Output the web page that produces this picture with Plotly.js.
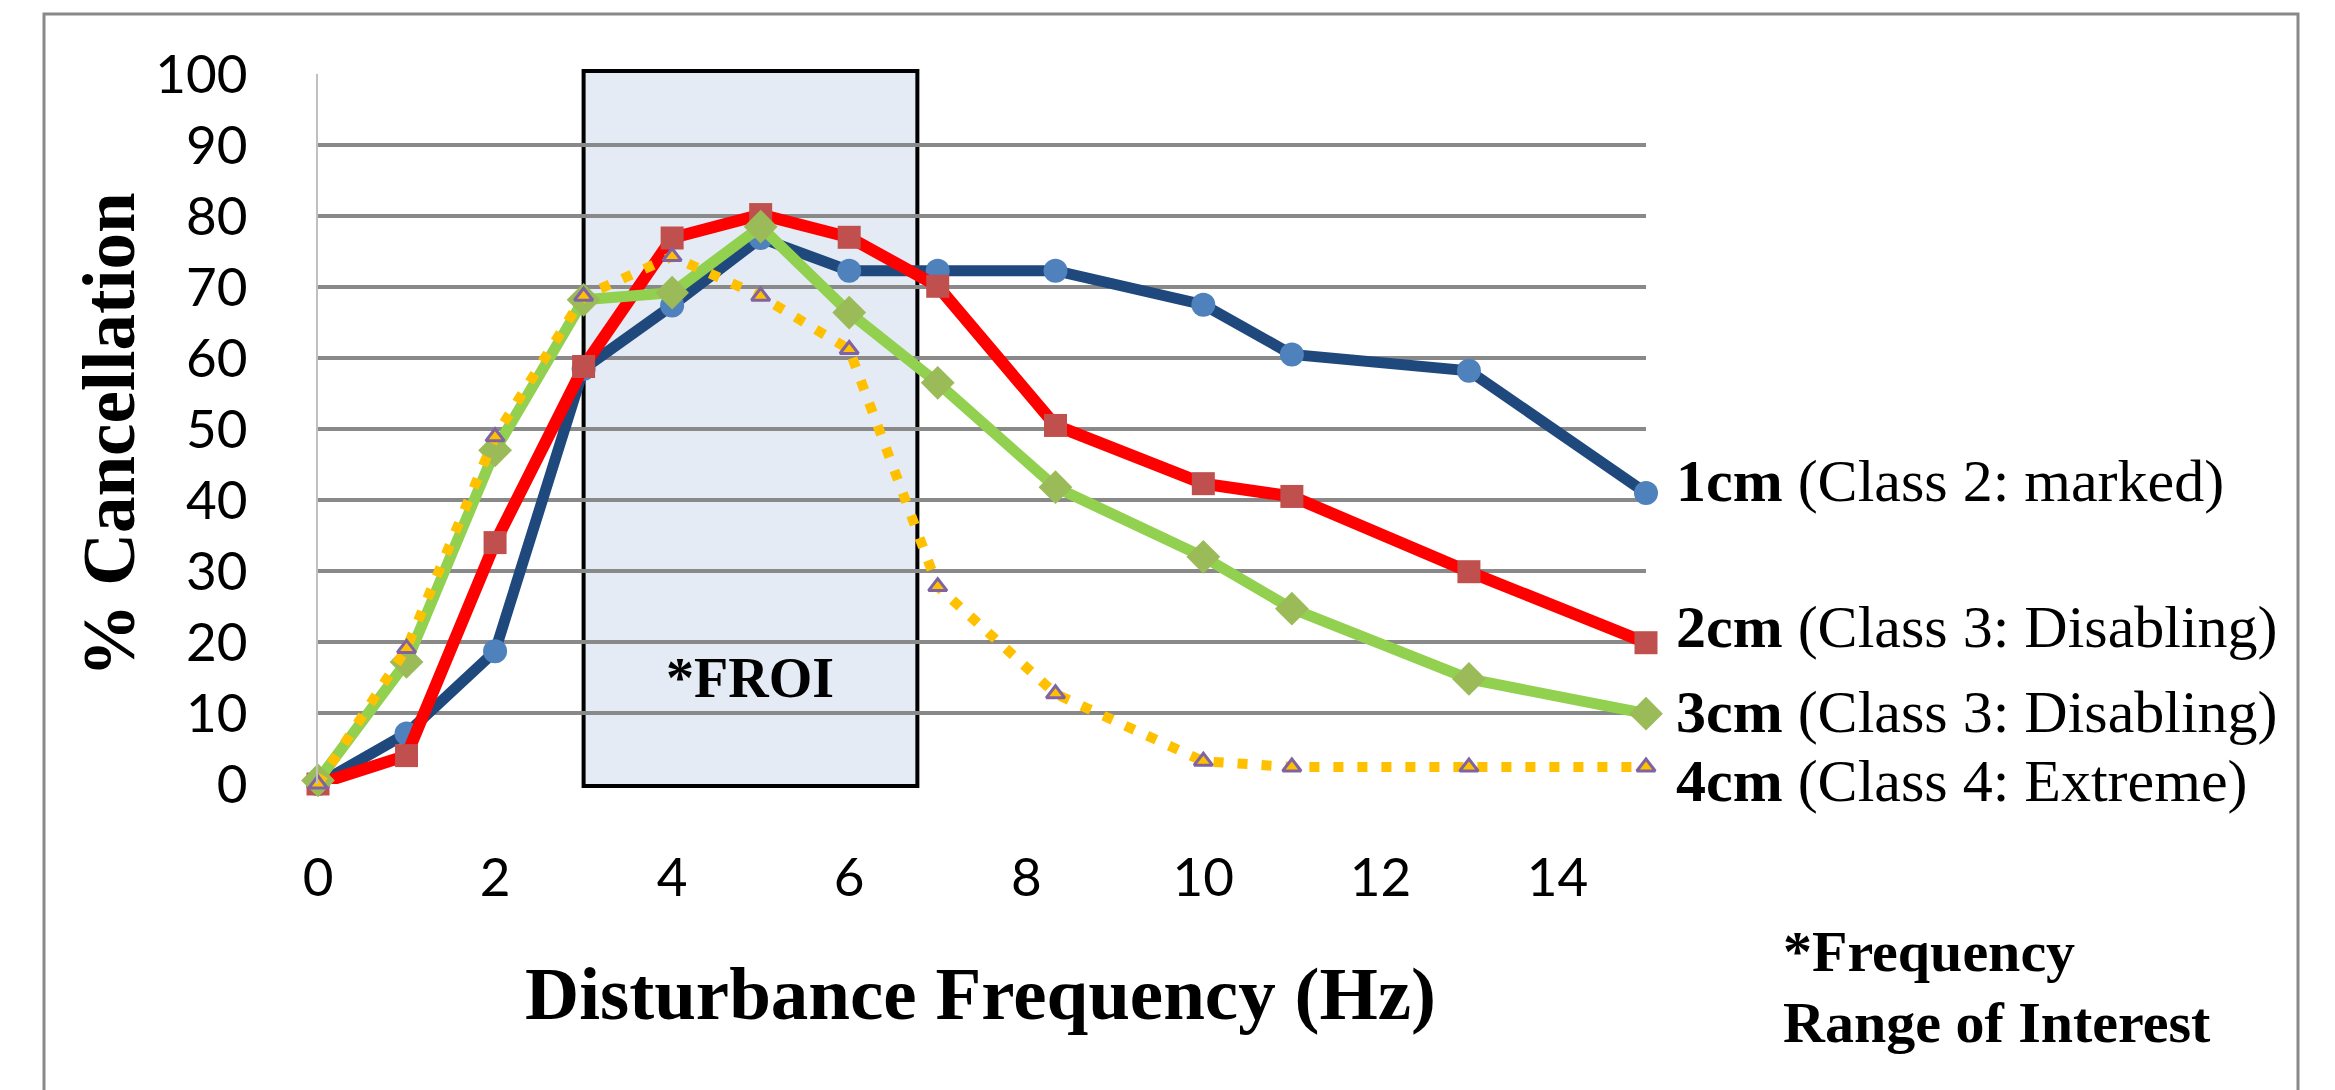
<!DOCTYPE html>
<html>
<head>
<meta charset="utf-8">
<script src="https://cdn.plot.ly/plotly-3.0.1.min.js"></script>
<style>
  html, body { margin: 0; padding: 0; background: #ffffff; }
  #chart { width: 2335px; height: 1090px; }
</style>
</head>
<body>
<div id="chart"></div>
<script>
// ---- data ----
const freqHz = [0, 1, 2, 3, 4, 5, 6, 7, 8.33, 10, 11, 13, 15];
const cancel1cm = [0, 7.1, 18.7, 58.5, 67.4, 76.9, 72.3, 72.3, 72.3, 67.5, 60.5, 58.2, 41.0];
const cancel2cm = [0, 4.0, 34.0, 58.8, 76.9, 80.2, 77.0, 70.1, 50.5, 42.3, 40.5, 29.9, 19.9];
const cancel3cm = [0.5, 17.2, 47.0, 68.2, 69.2, 78.5, 66.4, 56.5, 41.8, 32.0, 24.7, 14.8, 9.9];
const cancel4cm = [0, 19.1, 48.9, 68.7, 74.3, 68.7, 61.2, 27.8, 12.7, 3.2, 2.4, 2.4, 2.4];
const seriesNames = ["1cm", "2cm", "3cm", "4cm"];
const seriesClasses = ["(Class 2: marked)", "(Class 3: Disabling)", "(Class 3: Disabling)", "(Class 4: Extreme)"];
const xTickVals = [0, 2, 4, 6, 8, 10, 12, 14];
const yTickVals = [0, 10, 20, 30, 40, 50, 60, 70, 80, 90, 100];
const froiRange = [3, 6.77];
const froiLabel = "*FROI";
const noteLines = ["*Frequency", "Range of Interest"];
const xTitle = "Disturbance Frequency (Hz)";
const yTitle = "% Cancellation";

// ---- layout geometry (pixels) ----
const W = 2335, H = 1090;
const L = 318, R = 1646, T = 74, B = 784;
const PW = R - L, PH = B - T;
const px = v => (v - L) / PW;          // pixel x -> paper x
const py = v => (B - v) / PH;          // pixel y -> paper y

const serif = "Liberation Serif, Times New Roman, serif";
const sans = "Lato, Carlito, Calibri, sans-serif";

const traces = [
  { x: freqHz, y: cancel1cm, name: seriesNames[0], mode: "lines+markers",
    line: { color: "#1F497D", width: 11 },
    marker: { symbol: "circle", size: 24, color: "#4F81BD" } },
  { x: freqHz, y: cancel2cm, name: seriesNames[1], mode: "lines+markers",
    line: { color: "#FF0000", width: 12 },
    marker: { symbol: "square", size: 23, color: "#C0504D" } },
  { x: freqHz, y: cancel3cm, name: seriesNames[2], mode: "lines+markers",
    line: { color: "#92D050", width: 11 },
    marker: { symbol: "diamond", size: 26, color: "#9BBB59" } },
  { x: freqHz, y: cancel4cm, name: seriesNames[3], mode: "lines+markers",
    line: { color: "#FFC000", width: 10, dash: "10px,14px" },
    marker: { symbol: "triangle-up", size: 16, color: "#FFC000", line: { color: "#8064A2", width: 3 } } }
].map(t => Object.assign(t, { cliponaxis: false, hoverinfo: "x+y+name" }));

const labelCentersPx = [481, 627, 712, 781];
const annotations = [];
seriesNames.forEach((n, i) => {
  annotations.push({
    xref: "paper", yref: "paper", x: px(1674), y: py(labelCentersPx[i]),
    xanchor: "left", yanchor: "middle", showarrow: false,
    text: "<b>" + n + "</b> " + seriesClasses[i],
    font: { family: serif, size: 60, color: "#000000" }
  });
});
annotations.push({
  xref: "x", yref: "y", x: (froiRange[0] + froiRange[1]) / 2, y: 15,
  xanchor: "center", yanchor: "middle", showarrow: false,
  text: "<b>" + froiLabel + "</b>",
  font: { family: serif, size: 56, color: "#000000" }
});
annotations.push({
  xref: "paper", yref: "paper", x: px(980), y: py(993),
  xanchor: "center", yanchor: "middle", showarrow: false,
  text: "<b>" + xTitle + "</b>",
  font: { family: serif, size: 75, color: "#000000" }
});
annotations.push({
  xref: "paper", yref: "paper", x: px(109), y: py(435),
  xanchor: "center", yanchor: "middle", showarrow: false, textangle: -90,
  text: "<b>" + yTitle + "</b>",
  font: { family: serif, size: 73, color: "#000000" }
});
const noteCenters = [952, 1022];
noteLines.forEach((s, i) => {
  annotations.push({
    xref: "paper", yref: "paper", x: px(1781), y: py(noteCenters[i]),
    xanchor: "left", yanchor: "middle", showarrow: false,
    text: "<b>" + s + "</b>",
    font: { family: serif, size: 58, color: "#000000" }
  });
});

const shapes = [
  { type: "rect", xref: "x", yref: "paper", x0: froiRange[0], x1: froiRange[1], y0: py(786), y1: py(71),
    fillcolor: "#E4EBF5", line: { color: "#000000", width: 4 }, layer: "below" },
  { type: "rect", xref: "paper", yref: "paper", x0: px(44), x1: px(2298), y0: py(1110), y1: py(14),
    fillcolor: "rgba(0,0,0,0)", line: { color: "#898989", width: 3 }, layer: "below" }
];

const layout = {
  width: W, height: H,
  margin: { l: L, r: W - R, t: T, b: H - B, pad: 0 },
  paper_bgcolor: "#ffffff", plot_bgcolor: "rgba(0,0,0,0)",
  showlegend: false,
  xaxis: {
    range: [0, 15], tickvals: xTickVals, ticktext: xTickVals.map(String),
    showgrid: false, zeroline: false, showline: false,
    ticks: "outside", ticklen: 47, tickcolor: "rgba(0,0,0,0)",
    tickfont: { family: sans, size: 53, color: "#000000" }
  },
  yaxis: {
    range: [0, 100], tickvals: yTickVals, ticktext: yTickVals.map(String),
    showgrid: true, gridcolor: "#898989", gridwidth: 4,
    zeroline: false, showline: true, linecolor: "#C0C0C0", linewidth: 2,
    ticks: "outside", ticklen: 58, tickcolor: "rgba(0,0,0,0)",
    tickfont: { family: sans, size: 53, color: "#000000" }
  },
  shapes: shapes,
  annotations: annotations
};

Plotly.newPlot("chart", traces, layout, { staticPlot: true, displayModeBar: false });
</script>
</body>
</html>
